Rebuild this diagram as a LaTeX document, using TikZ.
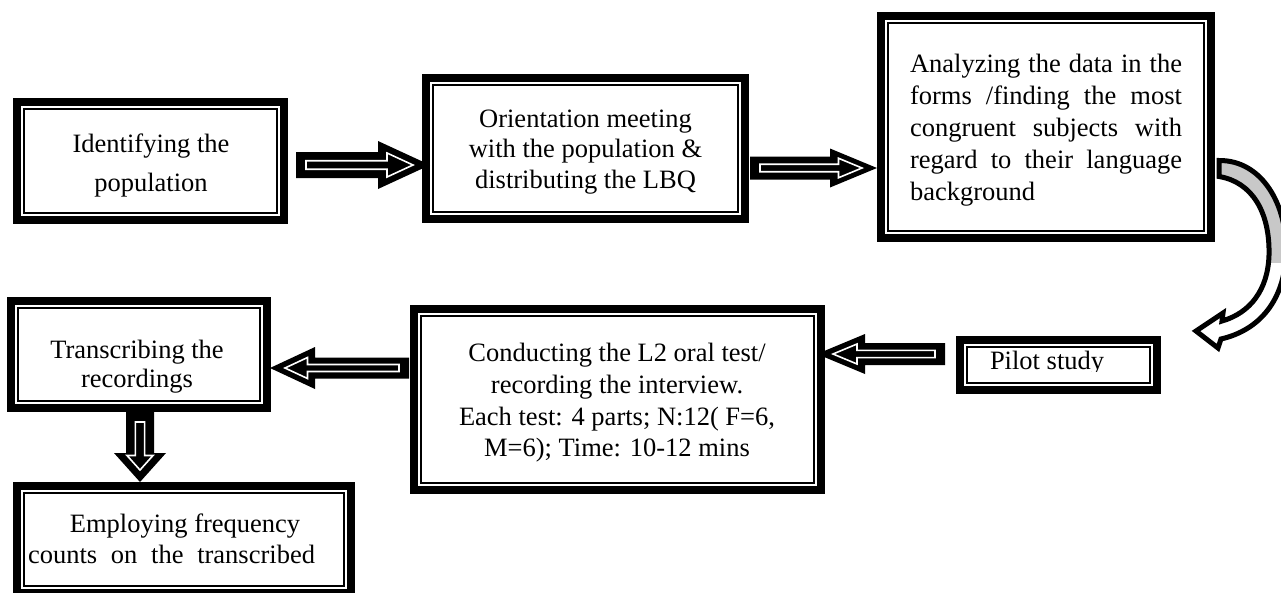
\documentclass[tikz,border=0pt]{standalone}
\usepackage{fontspec}
\setmainfont{Liberation Serif}
\usetikzlibrary{calc}
\definecolor{cgray}{RGB}{200,200,200}
\tikzset{
  boxn/.style={inner sep=0pt, outer sep=0pt},
  txt/.style={inner sep=0pt, outer sep=0pt, anchor=base},
  curv/.style={insert path={(1219,160.5) .. controls (1262,160) and (1288,205) .. (1286,255)
     .. controls (1284,300) and (1260,330) .. (1221,339) -- (1218,348) -- (1196,331) -- (1223,313)
     -- (1222,321) .. controls (1250,313) and (1268,290) .. (1269,255)
     .. controls (1270,212) and (1252,182) .. (1219,176.5) -- cycle}}
}
\newcommand\frameit[1]{%
  \draw[line width=8pt] ([shift={(4,4)}]#1.north west) rectangle ([shift={(-4,-4)}]#1.south east);
  \draw[line width=1.8pt] ([shift={(10.9,10.9)}]#1.north west) rectangle ([shift={(-10.9,-10.9)}]#1.south east);}
% horizontal block arrow: tail, tip, shaft half, head half, head length, inner tip inset
\newcommand\hblk[6]{%
  \fill let \p1=(#1), \p2=(#2), \n1={sign(\x2-\x1)} in
    ({\x1},{\y2+#3}) -- ({\x2-\n1*#5},{\y2+#3}) -- ({\x2-\n1*#5},{\y2+#4}) -- (\x2,\y2)
    -- ({\x2-\n1*#5},{\y2-#4}) -- ({\x2-\n1*#5},{\y2-#3}) -- ({\x1},{\y2-#3}) -- cycle;
  \draw[white,line width=1.6pt] let \p1=(#1), \p2=(#2), \n1={sign(\x2-\x1)} in
    ({\x1+\n1*10},{\y2+0.33*#3}) -- ({\x2-\n1*(#6+0.5*#5)},{\y2+0.33*#3})
    -- ({\x2-\n1*(#6+0.5*#5)},{\y2+0.5*#4}) -- ({\x2-\n1*#6},{\y2})
    -- ({\x2-\n1*(#6+0.5*#5)},{\y2-0.5*#4}) -- ({\x2-\n1*(#6+0.5*#5)},{\y2-0.33*#3})
    -- ({\x1+\n1*10},{\y2-0.33*#3}) -- cycle;}
% vertical block arrow
\newcommand\vblk[6]{%
  \fill let \p1=(#1), \p2=(#2), \n1={sign(\y2-\y1)} in
    ({\x2+#3},{\y1}) -- ({\x2+#3},{\y2-\n1*#5}) -- ({\x2+#4},{\y2-\n1*#5}) -- (\x2,\y2)
    -- ({\x2-#4},{\y2-\n1*#5}) -- ({\x2-#3},{\y2-\n1*#5}) -- ({\x2-#3},{\y1}) -- cycle;
  \draw[white,line width=1.6pt] let \p1=(#1), \p2=(#2), \n1={sign(\y2-\y1)} in
    ({\x2+0.33*#3},{\y1+\n1*10}) -- ({\x2+0.33*#3},{\y2-\n1*(#6+0.5*#5)})
    -- ({\x2+0.5*#4},{\y2-\n1*(#6+0.5*#5)}) -- ({\x2},{\y2-\n1*#6})
    -- ({\x2-0.5*#4},{\y2-\n1*(#6+0.5*#5)}) -- ({\x2-0.33*#3},{\y2-\n1*(#6+0.5*#5)})
    -- ({\x2-0.33*#3},{\y1+\n1*10}) -- cycle;}
\begin{document}
\begin{tikzpicture}[x=1pt,y=-1pt]
\useasboundingbox (0,0) rectangle (1281,592);
\clip (0,0) rectangle (1281,592);
\fill[white] (0,0) rectangle (1281,592);
% boxes
\node[boxn, minimum width=275pt, minimum height=126pt] (idf) at (150.5,161) {};
\node[boxn, minimum width=327pt, minimum height=149pt] (ori) at (585.5,148.5) {};
\node[boxn, minimum width=338pt, minimum height=230pt] (ana) at (1046,127) {};
\node[boxn, minimum width=205pt, minimum height=58pt] (pil) at (1058.5,365) {};
\node[boxn, minimum width=415pt, minimum height=189pt] (con) at (617.5,399.5) {};
\node[boxn, minimum width=264pt, minimum height=115pt] (tra) at (139,354.5) {};
\node[boxn, minimum width=342pt, minimum height=115pt] (emp) at (184,539.5) {};
\foreach \b in {idf,ori,ana,pil,con,tra,emp} {\frameit{\b}}
% texts
\node[txt, font=\fontsize{26.5pt}{39.5pt}\selectfont] (tidf) at (151,152)
  {\begin{tabular}[t]{@{}c@{}}Identifying the\\population\end{tabular}};
\node[txt, font=\fontsize{26.5pt}{30.5pt}\selectfont] (tori) at (585.5,127)
  {\begin{tabular}[t]{@{}c@{}}Orientation meeting\\with the population \&\\distributing the LBQ\end{tabular}};
\node[txt, anchor=base west, font=\fontsize{26.5pt}{32pt}\selectfont] (tana) at (910,72)
  {\parbox[t]{272pt}{Analyzing the data in the\linebreak forms /finding the most\linebreak congruent subjects with\linebreak regard to their language\linebreak background}};
\begin{scope}
  \clip (960,346) rectangle (1150,371);
  \node[txt, anchor=base west, font=\fontsize{26.5pt}{30pt}\selectfont] (tpil) at (990,369.5) {Pilot study};
\end{scope}
\node[txt, font=\fontsize{26.5pt}{31.7pt}\selectfont] (tcon) at (617,361.7)
  {\begin{tabular}[t]{@{}c@{}}Conducting the L2 oral test/\\recording the interview.\\Each test: 4 parts; N:12( F=6,\\M=6); Time: 10-12 mins\end{tabular}};
\node[txt, font=\fontsize{26.5pt}{29pt}\selectfont] (ttra) at (137,358)
  {\begin{tabular}[t]{@{}c@{}}Transcribing the\\recordings\end{tabular}};
\node[txt, font=\fontsize{26.5pt}{31pt}\selectfont] (temp) at (185,532)
  {\begin{tabular}[t]{@{}c@{}}Employing frequency\\\makebox[287pt][s]{counts on the transcribed}\hspace*{27pt}\end{tabular}};
% block arrows
\hblk{$(idf.east)+(8,4)$}{$(ori.west)+(8,16.5)$}{13}{24}{52}{17}
\hblk{$(ori.east)+(1,0)$}{$(ana.west)+(0,41)$}{11.5}{19.5}{47}{15}
\hblk{$(pil.west)+(-11,-11)$}{$(con.east)+(-8,-45.5)$}{11}{20}{48}{16}
\hblk{$(con.west)+(-1,0)$}{$(tra.east)+(-1,13.5)$}{10.5}{21}{45}{15}
\vblk{$(tra.south)+(1,0)$}{$(emp.north)+(-44,0)$}{14}{26}{29}{12}
% curved arrow from analysis box to pilot study
\fill[white, curv];
\begin{scope}
  \clip (1150,100) rectangle (1300,262);
  \fill[cgray, curv];
\end{scope}
\draw[line width=5pt, line join=miter, curv];
\end{tikzpicture}
\end{document}
